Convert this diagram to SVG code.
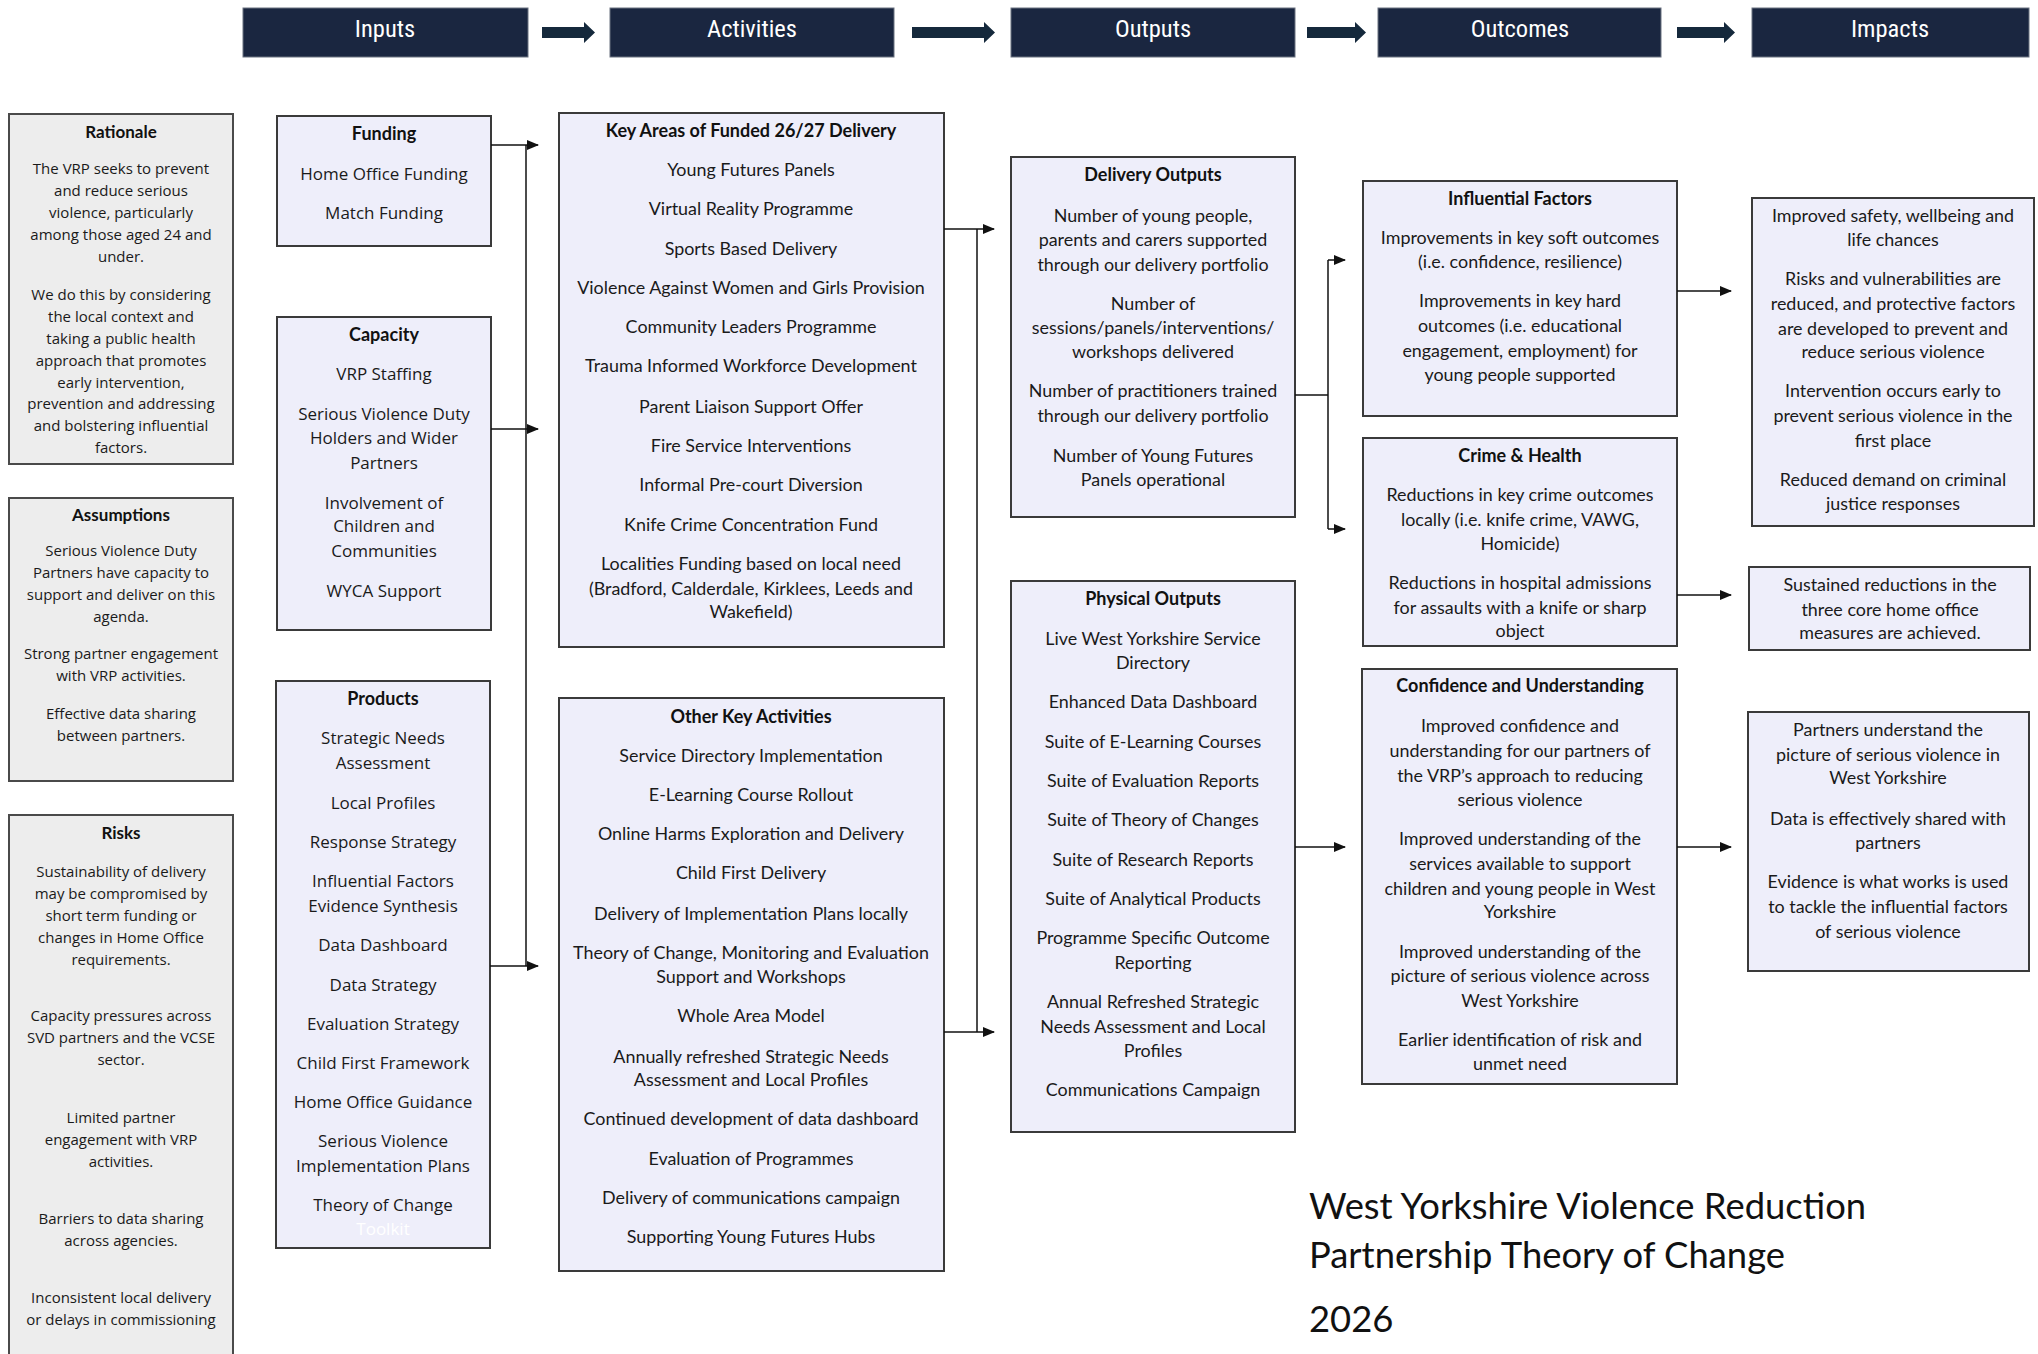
<svg xmlns="http://www.w3.org/2000/svg" width="2038" height="1354" viewBox="0 0 2038 1354">
<style>
.hdr{fill:#1a2640;stroke:#6b7280;stroke-width:1}
.hdrt{font-family:"Liberation Sans Narrow","Roboto Condensed","Liberation Sans",sans-serif;font-size:24.5px;fill:#ffffff;text-anchor:middle}
.blk{fill:#15293c}
.box{fill:#eeeefa;stroke:#3a3a3a;stroke-width:2}
.gbox{fill:#ededed;stroke:#4a4a4a;stroke-width:2}
.t{font-family:Lato,"Liberation Sans",sans-serif;font-size:17.9px;fill:#1a1a1a;text-anchor:middle}
.h{font-family:Lato,"Liberation Sans",sans-serif;font-size:18px;font-weight:bold;fill:#111;text-anchor:middle}
.l{font-family:"Open Sans","Liberation Sans",sans-serif;font-size:15px;fill:#1a1a1a;text-anchor:middle}
.i{font-family:"Open Sans","Liberation Sans",sans-serif;font-size:17px;fill:#1a1a1a;text-anchor:middle}
.hl{font-family:Lato,"Liberation Sans",sans-serif;font-size:17px;font-weight:bold;fill:#111;text-anchor:middle}
.title{font-family:Lato,"Liberation Sans",sans-serif;font-size:36.4px;fill:#111}
.conn{fill:none;stroke:#111;stroke-width:1.5}
</style>
<defs>
<marker id="ah" markerUnits="userSpaceOnUse" markerWidth="12" markerHeight="10" refX="11" refY="5" orient="auto">
<path d="M0,0 L12,5 L0,10 z" fill="#111"/>
</marker>
</defs>
<rect width="2038" height="1354" fill="#ffffff"/>

<g id="headers">
<g id="hdr-inputs"><rect class="hdr" x="243" y="8" width="285" height="49"/><text class="hdrt" x="385" y="37">Inputs</text></g>
<g id="hdr-activities"><rect class="hdr" x="610" y="8" width="284" height="49"/><text class="hdrt" x="752" y="37">Activities</text></g>
<g id="hdr-outputs"><rect class="hdr" x="1011" y="8" width="284" height="49"/><text class="hdrt" x="1153" y="37">Outputs</text></g>
<g id="hdr-outcomes"><rect class="hdr" x="1378" y="8" width="283" height="49"/><text class="hdrt" x="1520" y="37">Outcomes</text></g>
<g id="hdr-impacts"><rect class="hdr" x="1752" y="8" width="277" height="49"/><text class="hdrt" x="1890" y="37">Impacts</text></g>
</g>

<g id="header-arrows">
<path class="blk" d="M542,27 H584 V22 L595,32.5 L584,43 V38 H542 Z"/>
<path class="blk" d="M912,27 H984 V22 L995,32.5 L984,43 V38 H912 Z"/>
<path class="blk" d="M1307,27 H1355 V22 L1366,32.5 L1355,43 V38 H1307 Z"/>
<path class="blk" d="M1677,27 H1724 V22 L1735,32.5 L1724,43 V38 H1677 Z"/>
</g>

<g id="rationale">
<rect class="gbox" x="9" y="114" width="224" height="350"/>
<text class="hl" x="121" y="138">Rationale</text>
<text class="l" x="121" y="174">The VRP seeks to prevent</text>
<text class="l" x="121" y="196">and reduce serious</text>
<text class="l" x="121" y="218">violence, particularly</text>
<text class="l" x="121" y="240">among those aged 24 and</text>
<text class="l" x="121" y="262">under.</text>
<text class="l" x="121" y="300">We do this by considering</text>
<text class="l" x="121" y="322">the local context and</text>
<text class="l" x="121" y="344">taking a public health</text>
<text class="l" x="121" y="366">approach that promotes</text>
<text class="l" x="121" y="388">early intervention,</text>
<text class="l" x="121" y="409">prevention and addressing</text>
<text class="l" x="121" y="431">and bolstering influential</text>
<text class="l" x="121" y="453">factors.</text>
</g>

<g id="assumptions">
<rect class="gbox" x="9" y="498" width="224" height="283"/>
<text class="hl" x="121" y="521">Assumptions</text>
<text class="l" x="121" y="556">Serious Violence Duty</text>
<text class="l" x="121" y="578">Partners have capacity to</text>
<text class="l" x="121" y="600">support and deliver on this</text>
<text class="l" x="121" y="622">agenda.</text>
<text class="l" x="121" y="659">Strong partner engagement</text>
<text class="l" x="121" y="681">with VRP activities.</text>
<text class="l" x="121" y="719">Effective data sharing</text>
<text class="l" x="121" y="741">between partners.</text>
</g>

<g id="risks">
<rect class="gbox" x="9" y="815" width="224" height="560"/>
<text class="hl" x="121" y="839">Risks</text>
<text class="l" x="121" y="877">Sustainability of delivery</text>
<text class="l" x="121" y="899">may be compromised by</text>
<text class="l" x="121" y="921">short term funding or</text>
<text class="l" x="121" y="943">changes in Home Office</text>
<text class="l" x="121" y="965">requirements.</text>
<text class="l" x="121" y="1021">Capacity pressures across</text>
<text class="l" x="121" y="1043">SVD partners and the VCSE</text>
<text class="l" x="121" y="1065">sector.</text>
<text class="l" x="121" y="1123">Limited partner</text>
<text class="l" x="121" y="1145">engagement with VRP</text>
<text class="l" x="121" y="1167">activities.</text>
<text class="l" x="121" y="1224">Barriers to data sharing</text>
<text class="l" x="121" y="1246">across agencies.</text>
<text class="l" x="121" y="1303">Inconsistent local delivery</text>
<text class="l" x="121" y="1325">or delays in commissioning</text>
</g>

<g id="funding">
<rect class="box" x="277" y="116" width="214" height="130"/>
<text class="h" x="384" y="140">Funding</text>
<text class="i" x="384" y="180">Home Office Funding</text>
<text class="i" x="384" y="219">Match Funding</text>
</g>

<g id="capacity">
<rect class="box" x="277" y="317" width="214" height="313"/>
<text class="h" x="384" y="341">Capacity</text>
<text class="i" x="384" y="380">VRP Staffing</text>
<text class="i" x="384" y="420">Serious Violence Duty</text>
<text class="i" x="384" y="444">Holders and Wider</text>
<text class="i" x="384" y="469">Partners</text>
<text class="i" x="384" y="509">Involvement of</text>
<text class="i" x="384" y="532">Children and</text>
<text class="i" x="384" y="557">Communities</text>
<text class="i" x="384" y="597">WYCA Support</text>
</g>

<g id="products">
<rect class="box" x="276" y="681" width="214" height="567"/>
<text class="h" x="383" y="705">Products</text>
<text class="i" x="383" y="744">Strategic Needs</text>
<text class="i" x="383" y="769">Assessment</text>
<text class="i" x="383" y="809">Local Profiles</text>
<text class="i" x="383" y="848">Response Strategy</text>
<text class="i" x="383" y="887">Influential Factors</text>
<text class="i" x="383" y="912">Evidence Synthesis</text>
<text class="i" x="383" y="951">Data Dashboard</text>
<text class="i" x="383" y="991">Data Strategy</text>
<text class="i" x="383" y="1030">Evaluation Strategy</text>
<text class="i" x="383" y="1069">Child First Framework</text>
<text class="i" x="383" y="1108">Home Office Guidance</text>
<text class="i" x="383" y="1147">Serious Violence</text>
<text class="i" x="383" y="1172">Implementation Plans</text>
<text class="i" x="383" y="1211">Theory of Change</text>
<text class="i" x="383" y="1235" style="fill:#ffffff">Toolkit</text>
</g>

<g id="key-areas">
<rect class="box" x="559" y="113" width="385" height="534"/>
<text class="h" x="751" y="137">Key Areas of Funded 26/27 Delivery</text>
<text class="t" x="751" y="176">Young Futures Panels</text>
<text class="t" x="751" y="215">Virtual Reality Programme</text>
<text class="t" x="751" y="255">Sports Based Delivery</text>
<text class="t" x="751" y="294">Violence Against Women and Girls Provision</text>
<text class="t" x="751" y="333">Community Leaders Programme</text>
<text class="t" x="751" y="372">Trauma Informed Workforce Development</text>
<text class="t" x="751" y="413">Parent Liaison Support Offer</text>
<text class="t" x="751" y="452">Fire Service Interventions</text>
<text class="t" x="751" y="491">Informal Pre-court Diversion</text>
<text class="t" x="751" y="531">Knife Crime Concentration Fund</text>
<text class="t" x="751" y="570">Localities Funding based on local need</text>
<text class="t" x="751" y="595">(Bradford, Calderdale, Kirklees, Leeds and</text>
<text class="t" x="751" y="618">Wakefield)</text>
</g>

<g id="other-activities">
<rect class="box" x="559" y="698" width="385" height="573"/>
<text class="h" x="751" y="723">Other Key Activities</text>
<text class="t" x="751" y="762">Service Directory Implementation</text>
<text class="t" x="751" y="801">E-Learning Course Rollout</text>
<text class="t" x="751" y="840">Online Harms Exploration and Delivery</text>
<text class="t" x="751" y="879">Child First Delivery</text>
<text class="t" x="751" y="920">Delivery of Implementation Plans locally</text>
<text class="t" x="751" y="959">Theory of Change, Monitoring and Evaluation</text>
<text class="t" x="751" y="983">Support and Workshops</text>
<text class="t" x="751" y="1022">Whole Area Model</text>
<text class="t" x="751" y="1063">Annually refreshed Strategic Needs</text>
<text class="t" x="751" y="1086">Assessment and Local Profiles</text>
<text class="t" x="751" y="1125">Continued development of data dashboard</text>
<text class="t" x="751" y="1165">Evaluation of Programmes</text>
<text class="t" x="751" y="1204">Delivery of communications campaign</text>
<text class="t" x="751" y="1243">Supporting Young Futures Hubs</text>
</g>

<g id="delivery-outputs">
<rect class="box" x="1011" y="157" width="284" height="360"/>
<text class="h" x="1153" y="181">Delivery Outputs</text>
<text class="t" x="1153" y="222">Number of young people,</text>
<text class="t" x="1153" y="246">parents and carers supported</text>
<text class="t" x="1153" y="271">through our delivery portfolio</text>
<text class="t" x="1153" y="310">Number of</text>
<text class="t" x="1153" y="334">sessions/panels/interventions/</text>
<text class="t" x="1153" y="358">workshops delivered</text>
<text class="t" x="1153" y="397">Number of practitioners trained</text>
<text class="t" x="1153" y="422">through our delivery portfolio</text>
<text class="t" x="1153" y="462">Number of Young Futures</text>
<text class="t" x="1153" y="486">Panels operational</text>
</g>

<g id="physical-outputs">
<rect class="box" x="1011" y="581" width="284" height="551"/>
<text class="h" x="1153" y="605">Physical Outputs</text>
<text class="t" x="1153" y="645">Live West Yorkshire Service</text>
<text class="t" x="1153" y="669">Directory</text>
<text class="t" x="1153" y="708">Enhanced Data Dashboard</text>
<text class="t" x="1153" y="748">Suite of E-Learning Courses</text>
<text class="t" x="1153" y="787">Suite of Evaluation Reports</text>
<text class="t" x="1153" y="826">Suite of Theory of Changes</text>
<text class="t" x="1153" y="866">Suite of Research Reports</text>
<text class="t" x="1153" y="905">Suite of Analytical Products</text>
<text class="t" x="1153" y="944">Programme Specific Outcome</text>
<text class="t" x="1153" y="969">Reporting</text>
<text class="t" x="1153" y="1008">Annual Refreshed Strategic</text>
<text class="t" x="1153" y="1033">Needs Assessment and Local</text>
<text class="t" x="1153" y="1057">Profiles</text>
<text class="t" x="1153" y="1096">Communications Campaign</text>
</g>

<g id="influential-factors">
<rect class="box" x="1363" y="181" width="314" height="235"/>
<text class="h" x="1520" y="205">Influential Factors</text>
<text class="t" x="1520" y="244">Improvements in key soft outcomes</text>
<text class="t" x="1520" y="268">(i.e. confidence, resilience)</text>
<text class="t" x="1520" y="307">Improvements in key hard</text>
<text class="t" x="1520" y="332">outcomes (i.e. educational</text>
<text class="t" x="1520" y="357">engagement, employment) for</text>
<text class="t" x="1520" y="381">young people supported</text>
</g>

<g id="crime-health">
<rect class="box" x="1363" y="438" width="314" height="208"/>
<text class="h" x="1520" y="462">Crime &amp; Health</text>
<text class="t" x="1520" y="501">Reductions in key crime outcomes</text>
<text class="t" x="1520" y="526">locally (i.e. knife crime, VAWG,</text>
<text class="t" x="1520" y="550">Homicide)</text>
<text class="t" x="1520" y="589">Reductions in hospital admissions</text>
<text class="t" x="1520" y="614">for assaults with a knife or sharp</text>
<text class="t" x="1520" y="637">object</text>
</g>

<g id="confidence-understanding">
<rect class="box" x="1362" y="669" width="315" height="415"/>
<text class="h" x="1520" y="692">Confidence and Understanding</text>
<text class="t" x="1520" y="732">Improved confidence and</text>
<text class="t" x="1520" y="757">understanding for our partners of</text>
<text class="t" x="1520" y="782">the VRP’s approach to reducing</text>
<text class="t" x="1520" y="806">serious violence</text>
<text class="t" x="1520" y="845">Improved understanding of the</text>
<text class="t" x="1520" y="870">services available to support</text>
<text class="t" x="1520" y="895">children and young people in West</text>
<text class="t" x="1520" y="918">Yorkshire</text>
<text class="t" x="1520" y="958">Improved understanding of the</text>
<text class="t" x="1520" y="982">picture of serious violence across</text>
<text class="t" x="1520" y="1007">West Yorkshire</text>
<text class="t" x="1520" y="1046">Earlier identification of risk and</text>
<text class="t" x="1520" y="1070">unmet need</text>
</g>

<g id="impact-safety">
<rect class="box" x="1752" y="198" width="282" height="328"/>
<text class="t" x="1893" y="222">Improved safety, wellbeing and</text>
<text class="t" x="1893" y="246">life chances</text>
<text class="t" x="1893" y="285">Risks and vulnerabilities are</text>
<text class="t" x="1893" y="310">reduced, and protective factors</text>
<text class="t" x="1893" y="335">are developed to prevent and</text>
<text class="t" x="1893" y="358">reduce serious violence</text>
<text class="t" x="1893" y="397">Intervention occurs early to</text>
<text class="t" x="1893" y="422">prevent serious violence in the</text>
<text class="t" x="1893" y="447">first place</text>
<text class="t" x="1893" y="486">Reduced demand on criminal</text>
<text class="t" x="1893" y="510">justice responses</text>
</g>

<g id="impact-reductions">
<rect class="box" x="1749" y="567" width="281" height="83"/>
<text class="t" x="1890" y="591">Sustained reductions in the</text>
<text class="t" x="1890" y="616">three core home office</text>
<text class="t" x="1890" y="639">measures are achieved.</text>
</g>

<g id="impact-partners">
<rect class="box" x="1748" y="712" width="281" height="259"/>
<text class="t" x="1888" y="736">Partners understand the</text>
<text class="t" x="1888" y="761">picture of serious violence in</text>
<text class="t" x="1888" y="784">West Yorkshire</text>
<text class="t" x="1888" y="825">Data is effectively shared with</text>
<text class="t" x="1888" y="849">partners</text>
<text class="t" x="1888" y="888">Evidence is what works is used</text>
<text class="t" x="1888" y="913">to tackle the influential factors</text>
<text class="t" x="1888" y="938">of serious violence</text>
</g>

<g id="connectors">
<path class="conn" d="M526,145 V966"/>
<path class="conn" d="M491,145 H538" marker-end="url(#ah)"/>
<path class="conn" d="M491,429 H538" marker-end="url(#ah)"/>
<path class="conn" d="M490,966 H538" marker-end="url(#ah)"/>
<path class="conn" d="M977,229 V1032"/>
<path class="conn" d="M944,229 H994" marker-end="url(#ah)"/>
<path class="conn" d="M944,1032 H994" marker-end="url(#ah)"/>
<path class="conn" d="M1295,395 H1328"/>
<path class="conn" d="M1328,260 V529"/>
<path class="conn" d="M1328,260 H1345" marker-end="url(#ah)"/>
<path class="conn" d="M1328,529 H1345" marker-end="url(#ah)"/>
<path class="conn" d="M1295,847 H1345" marker-end="url(#ah)"/>
<path class="conn" d="M1677,291 H1731" marker-end="url(#ah)"/>
<path class="conn" d="M1677,595 H1731" marker-end="url(#ah)"/>
<path class="conn" d="M1677,847 H1731" marker-end="url(#ah)"/>
</g>

<g id="title">
<text class="title" x="1309" y="1219">West Yorkshire Violence Reduction</text>
<text class="title" x="1309" y="1268">Partnership Theory of Change</text>
<text class="title" x="1309" y="1332">2026</text>
</g>
</svg>
